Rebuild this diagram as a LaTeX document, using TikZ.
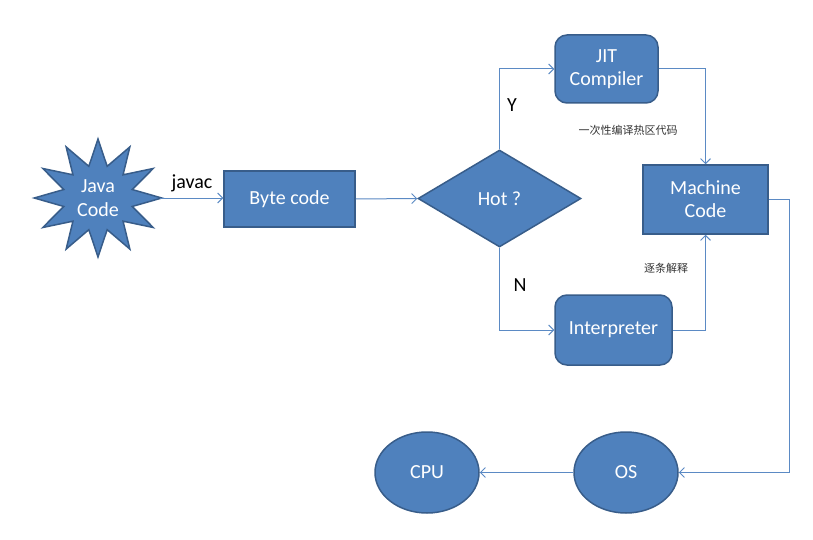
\documentclass[tikz,border=0pt]{standalone}
\usepackage{fontspec}
\setmainfont{Carlito}
\newfontfamily\cjk{Noto Sans CJK SC}
\usetikzlibrary{shapes.geometric,arrows.meta}
\definecolor{boxfill}{HTML}{4F81BD}
\definecolor{boxline}{HTML}{385D8A}
\definecolor{conn}{HTML}{5B8AC4}
\tikzset{
  shp/.style={fill=boxfill,draw=boxline,line width=1.5pt,text=white,font=\fontsize{20}{23}\selectfont,align=center,inner sep=0pt},
  rbox/.style={shp,rectangle,minimum width=#1},
  rrbox/.style={shp,rectangle,rounded corners=12pt},
  conn/.style={draw=conn,line width=1pt,-{Straight Barb[length=5pt,width=10pt,line width=0.9pt]}},
  lab/.style={font=\fontsize{20}{23}\selectfont,text=black},
  clab/.style={font=\cjk\fontsize{11}{13}\selectfont,text=black!80}
}
\begin{document}
\begin{tikzpicture}[x=1pt,y=-1pt]
\useasboundingbox[fill=white] (0,0) rectangle (813,540);
\node[shp,star,star points=12,star point ratio=1.8,minimum size=118pt,xscale=1.08] (java) at (98,198) {};
\node[text=white,font=\fontsize{20}{24}\selectfont,align=center] at (java) {Java\\Code};
\node[rbox=131pt,minimum height=56pt] (byte) at (289.5,199) {Byte code};
\node[shp,diamond,aspect=1.68,minimum width=163pt,minimum height=97pt] (hot) at (499.5,198.5) {Hot ?};
\node[rrbox,minimum width=103pt,minimum height=68pt] (jit) at (606.5,69) {JIT\\Compiler};
\node[rbox=125pt,minimum height=69pt] (mach) at (705.5,199.5) {Machine\\Code};
\node[rrbox,minimum width=117pt,minimum height=70pt] (interp) at (613.5,330) {Interpreter};
\node[shp,ellipse,minimum width=104pt,minimum height=81pt] (os) at (626,472.5) {OS};
\node[shp,ellipse,minimum width=104pt,minimum height=81pt] (cpu) at (427,472.5) {CPU};
\coordinate (javaR) at (160,198);
\draw[conn] (javaR) -- (byte.west |- javaR);
\node[lab] (javac) at (192,183) {javac};
\draw[conn] (byte.east) -- (hot.west);
\draw[conn] (hot.north) |- (jit.west);
\node[lab] (y) at (512,105) {Y};
\draw[conn] (hot.south) |- (interp.west);
\node[lab] (n) at (520,285) {N};
\draw[conn] (jit.east) -| (mach.north);
\node[clab] (l1) at (628,130) {一次性编译热区代码};
\draw[conn] (interp.east) -| (mach.south);
\node[clab] (l2) at (666,268) {逐条解释};
\coordinate (corner) at (789,199.5);
\draw[conn] (mach.east) -- (corner) |- (os.east);
\draw[conn] (os.west) -- (cpu.east);
\end{tikzpicture}
\end{document}
